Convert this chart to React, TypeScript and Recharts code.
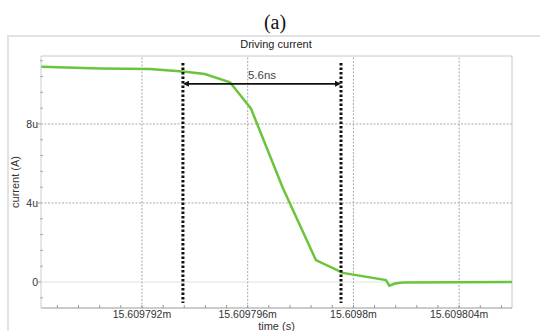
import React from 'react';
import { LineChart, Line, XAxis, YAxis, ReferenceLine } from 'recharts';

// time in ns (15609792 ns = 15.609792m s), current in uA
const timeNs = [
  15609788.18, 15609790.41, 15609792.3, 15609793.55, 15609794.38, 15609795.33, 15609796.12,
  15609797.33, 15609798.58, 15609799.6, 15609801.23, 15609801.36, 15609801.57, 15609801.88,
  15609806.0,
];
const currentU = [10.89, 10.81, 10.78, 10.65, 10.53, 10.11, 8.79, 4.76, 1.11, 0.46, 0.1, -0.19, -0.08, -0.02, 0];

const xMajor = [15609792, 15609796, 15609800, 15609804];
const xMinor = [
  15609788.8, 15609789.6, 15609790.4, 15609791.2, 15609792.8, 15609793.6, 15609794.4, 15609795.2,
  15609796.8, 15609797.6, 15609798.4, 15609799.2, 15609800.8, 15609801.6, 15609802.4, 15609803.2,
  15609804.8, 15609805.6,
];
const yMajor = [0, 4, 8];
const yMinor = [-0.8, 0.8, 1.6, 2.4, 3.2, 4.8, 5.6, 6.4, 7.2, 8.8, 9.6, 10.4, 11.2];

const xDomain = [15609788.18, 15609806.0];
const yDomain = [-1.316, 11.44];

const markerTimes = [15609793.55, 15609799.53];
const markerSpan = [11.09, -1.06];
const arrowLevel = 10.03;
const arrowLabel = '5.6ns';

const data = timeNs.map((t, i) => ({ t, i: currentU[i] }));

const font = '"Liberation Sans", Arial, sans-serif';

const fmtTime = (v: number) => (v / 1e6).toFixed(6).replace(/0+$/, '') + 'm';

const XTick = ({ x, y, payload }: any) => {
  const major = xMajor.includes(payload.value);
  return (
    <g>
      <line x1={x} x2={x} y1={y} y2={y - 3} stroke="#999" />
      {major && (
        <text x={x} y={y + 10} textAnchor="middle" fontSize={10.5} fill="#333" fontFamily={font}>
          {fmtTime(payload.value)}
        </text>
      )}
    </g>
  );
};

const YTick = ({ x, y, payload }: any) => {
  const major = yMajor.includes(payload.value);
  return (
    <g>
      {major ? (
        <>
          <line x1={x - 3} x2={x} y1={y} y2={y} stroke="#999" />
          <text x={x - 3} y={y + 4} textAnchor="end" fontSize={10.5} fill="#333" fontFamily={font}>
            {payload.value === 0 ? '0' : `${payload.value}u`}
          </text>
        </>
      ) : (
        <line x1={x - 1} x2={x + 2} y1={y} y2={y} stroke="#aaa" />
      )}
    </g>
  );
};

const ArrowShape = (props: any) => {
  const { x1, y1, x2 } = props;
  const left = Math.min(x1, x2);
  const right = Math.max(x1, x2);
  return (
    <g>
      <line x1={left + 2} x2={right - 2} y1={y1} y2={y1} stroke="#111" strokeWidth={1.8} />
      <polygon points={`${left},${y1} ${left + 6},${y1 - 3} ${left + 6},${y1 + 3}`} fill="#111" />
      <polygon points={`${right},${y1} ${right - 6},${y1 - 3} ${right - 6},${y1 + 3}`} fill="#111" />
      <text x={(left + right) / 2} y={y1 - 5} textAnchor="middle" fontSize={11.5} fill="#444" fontFamily={font}>
        {arrowLabel}
      </text>
    </g>
  );
};

export default function App() {
  return (
    <div style={{ position: 'absolute', left: 0, top: 0, width: 540, height: 331, background: '#fff', overflow: 'hidden' }}>
      <div
        style={{
          position: 'absolute', left: 7, top: 35, width: 540, height: 310,
          borderLeft: '2px solid #e2e2e2', borderTop: '2px solid #e2e2e2',
        }}
      />
      <div
        style={{
          position: 'absolute', left: 175, width: 200, top: 9, textAlign: 'center',
          fontFamily: '"Liberation Serif", "Times New Roman", serif', fontSize: 20, lineHeight: '26px', color: '#111',
        }}
      >
        (a)
      </div>
      <div
        style={{
          position: 'absolute', left: 176, width: 200, top: 37, textAlign: 'center',
          fontFamily: font, fontSize: 11, lineHeight: '14px', color: '#222',
        }}
      >
        Driving current
      </div>
      <div style={{ position: 'absolute', left: 0, top: 0 }}>
        <LineChart width={540} height={331} data={data} margin={{ top: 56, right: 28, bottom: 0, left: 0 }}>
          <XAxis
            dataKey="t"
            type="number"
            domain={xDomain}
            allowDataOverflow
            ticks={[...xMajor, ...xMinor].sort((a, b) => a - b)}
            interval={0}
            tick={<XTick />}
            tickLine={false}
            tickSize={0}
            tickMargin={0}
            height={23}
            stroke="#999"
            label={{ value: 'time (s)', position: 'insideBottom', offset: 1, fontSize: 11, fill: '#333', fontFamily: font }}
          />
          <YAxis
            type="number"
            domain={yDomain}
            allowDataOverflow
            ticks={[...yMajor, ...yMinor].sort((a, b) => a - b)}
            interval={0}
            tick={<YTick />}
            tickLine={false}
            tickSize={0}
            tickMargin={0}
            width={41}
            stroke="#ccc"
            label={{
              value: 'current (A)', angle: -90, position: 'insideLeft', offset: 15,
              fontSize: 11, fill: '#333', fontFamily: font, style: { textAnchor: 'middle' },
            }}
          />
          <ReferenceLine y={0} stroke="#e0e0e0" />
          {yMajor.filter((v) => v !== 0).map((v) => (
            <ReferenceLine key={`h${v}`} y={v} stroke="#aaa" strokeDasharray="2 1.5" />
          ))}
          {xMajor.map((v) => (
            <ReferenceLine key={`v${v}`} x={v} stroke="#aaa" strokeDasharray="2 1.5" />
          ))}
          <ReferenceLine y={yDomain[1]} stroke="#c8c8c8" />
          <ReferenceLine x={xDomain[1]} stroke="#c8c8c8" />
          <Line
            dataKey="i"
            type="linear"
            stroke="#6cc43c"
            strokeWidth={2.5}
            dot={false}
            isAnimationActive={false}
          />
          {markerTimes.map((t) => (
            <ReferenceLine
              key={`m${t}`}
              segment={[{ x: t, y: markerSpan[0] }, { x: t, y: markerSpan[1] }]}
              stroke="#111"
              strokeWidth={3}
              strokeDasharray="2.5 2"
            />
          ))}
          <ReferenceLine
            segment={[{ x: markerTimes[0], y: arrowLevel }, { x: markerTimes[1], y: arrowLevel }]}
            shape={<ArrowShape />}
          />
        </LineChart>
      </div>
    </div>
  );
}
